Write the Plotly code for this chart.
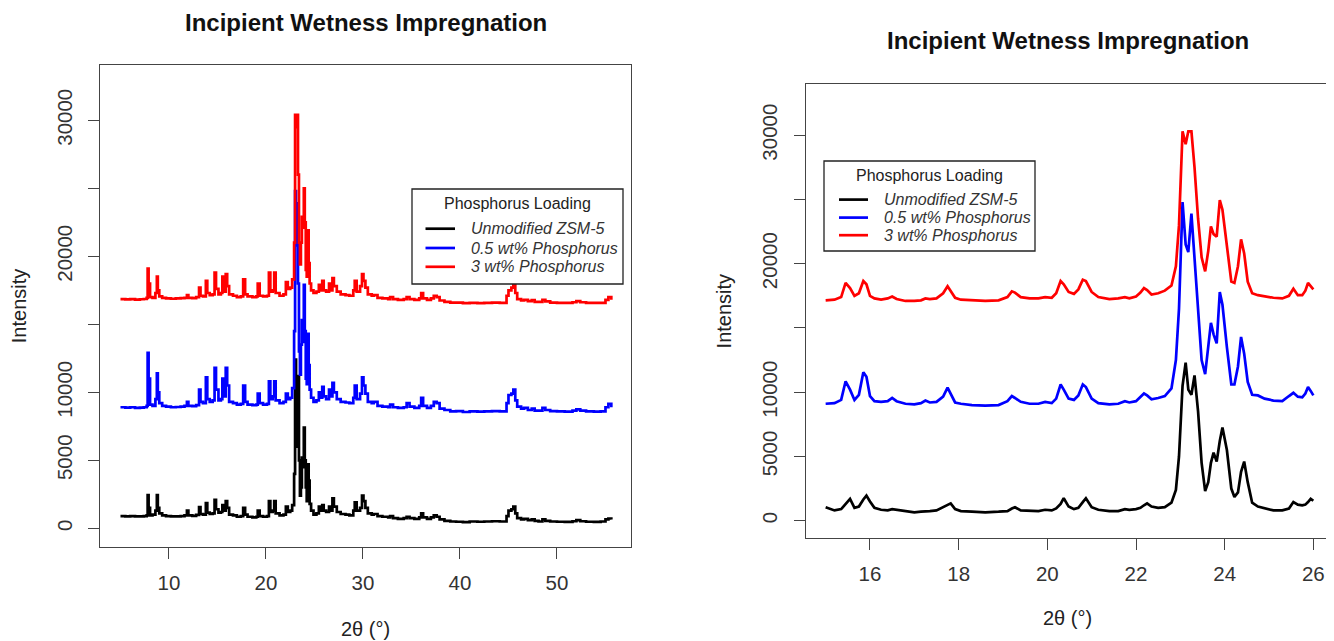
import plotly.graph_objects as go

# ---------------- Left panel: full scan (2theta 5-55.6) ----------------
x_full = [5.0, 5.5, 6.0, 6.5, 7.0, 7.4, 7.7, 7.8, 7.9, 8.05,
          8.3, 8.6, 8.75, 8.85, 9.0, 9.3, 9.7, 10.2, 10.7, 11.2,
          11.6, 11.85, 12.0, 12.4, 12.8, 13.1, 13.25, 13.5, 13.8, 13.95,
          14.2, 14.5, 14.7, 14.85, 15.1, 15.35, 15.5, 15.65, 15.85, 16.0,
          16.2, 16.6, 17.0, 17.4, 17.65, 17.85, 18.1, 18.6, 19.0, 19.15,
          19.35, 19.7, 20.1, 20.3, 20.45, 20.7, 20.85, 21.0, 21.4, 21.8,
          22.05, 22.25, 22.5, 22.7, 22.9, 23.0, 23.1, 23.2, 23.3, 23.4,
          23.5, 23.6, 23.7, 23.8, 23.9, 24.0, 24.1, 24.2, 24.3, 24.4,
          24.5, 24.65, 24.9, 25.2, 25.45, 25.6, 25.8, 25.95, 26.2, 26.5,
          26.65, 26.85, 27.0, 27.3, 27.7, 28.2, 28.6, 29.0, 29.15, 29.35,
          29.7, 29.9, 30.05, 30.25, 30.5, 30.9, 31.1, 31.5, 32.0, 32.6,
          32.8, 33.1, 33.6, 34.2, 34.5, 34.8, 35.3, 35.8, 36.0, 36.2,
          36.6, 37.0, 37.3, 37.6, 37.9, 38.4, 39.0, 39.6, 40.3, 41.0,
          41.8, 42.5, 43.3, 44.1, 44.8, 45.0, 45.3, 45.5, 45.7, 45.9,
          46.3, 46.6, 47.0, 47.4, 47.7, 48.1, 48.5, 48.8, 49.3, 50.0,
          50.8, 51.6, 52.0, 52.4, 53.0, 53.8, 54.5, 55.0, 55.3, 55.6]
black_full = [900, 880, 900, 870, 880, 900, 950, 2450, 1500, 950,
              1000, 1300, 2450, 1500, 1100, 950, 900, 870, 880, 900,
              950, 1300, 950, 920, 980, 1550, 1050, 1000, 1850, 1150,
              1050, 1100, 2100, 1400, 1150, 1200, 1700, 1300, 2000, 1500,
              1000, 950, 850, 900, 1500, 1000, 850, 800, 850, 1300,
              900, 850, 900, 2000, 1200, 1300, 2000, 1100, 950, 1000,
              1600, 1200, 1300, 1700, 4000, 12400, 9000, 6000, 11200, 5000,
              2400, 3000, 5200, 4500, 7400, 5000, 3000, 2000, 4700, 3500,
              1800, 1300, 1000, 1100, 1600, 1300, 1700, 1300, 1200, 1600,
              1300, 2200, 1600, 1200, 1050, 1000, 950, 1300, 1900, 1300,
              1500, 2400, 2000, 1500, 1100, 1000, 1050, 900, 850, 800,
              900, 750, 700, 750, 850, 750, 700, 800, 1100, 800,
              700, 800, 950, 850, 650, 550, 500, 480, 450, 500,
              480, 500, 520, 500, 900, 1300, 1400, 1600, 1100, 750,
              650, 700, 600, 650, 550, 500, 650, 550, 500, 480,
              470, 520, 600, 520, 480, 470, 500, 650, 720, 650]
blue_full = [8900, 8880, 8900, 8850, 8870, 8900, 9000, 12900, 11000, 9100,
             9000, 9500, 11400, 10000, 9200, 9000, 8950, 8900, 8920, 8950,
             9000, 9300, 9000, 8980, 9050, 10200, 9300, 9200, 11100, 9500,
             9300, 9400, 11800, 10200, 9400, 9500, 11000, 9700, 11800, 10500,
             9300, 9200, 9100, 9150, 10500, 9300, 9100, 9050, 9100, 9900,
             9200, 9100, 9150, 10800, 9500, 9700, 10800, 9400, 9200, 9300,
             9900, 9500, 9600, 10300, 14500, 24800, 20800, 23900, 18000, 13000,
             11300, 13500, 15300, 13700, 17900, 14500, 11000, 10600, 14300, 12000,
             10200, 9600, 9300, 9400, 10000, 9600, 10400, 9700, 9500, 10200,
             9700, 10700, 10000, 9500, 9300, 9250, 9200, 9600, 10500, 9500,
             9900, 11100, 10500, 9900, 9300, 9200, 9300, 9000, 8950, 8900,
             9100, 8900, 8850, 8900, 9200, 8950, 8850, 9000, 9600, 9000,
             8850, 9000, 9300, 9200, 8800, 8700, 8600, 8620, 8550, 8600,
             8580, 8600, 8620, 8600, 9200, 9800, 9900, 10200, 9400, 8950,
             8800, 8850, 8700, 8800, 8650, 8650, 8850, 8700, 8620, 8600,
             8580, 8650, 8750, 8650, 8600, 8580, 8600, 8900, 9150, 8900]
red_full = [16850, 16830, 16850, 16820, 16840, 16860, 16950, 19100, 18000, 17000,
            16950, 17300, 18500, 17500, 17050, 16950, 16900, 16880, 16900, 16920,
            16950, 17150, 16950, 16930, 17000, 17700, 17100, 17050, 18200, 17300,
            17150, 17200, 18800, 17600, 17200, 17300, 18500, 17400, 18700, 17800,
            17200, 17100, 17000, 17050, 18300, 17200, 17050, 17000, 17050, 18000,
            17100, 17050, 17100, 18800, 17400, 17500, 18800, 17300, 17100, 17200,
            18100, 17600, 17700, 18300, 21000, 30400, 29500, 30400, 26000, 21000,
            19400, 21000, 22900, 22100, 25000, 22500, 19000, 18500, 21900, 19500,
            18000, 17500, 17300, 17400, 17900, 17500, 18200, 17500, 17400, 18000,
            17500, 18400, 17800, 17400, 17200, 17150, 17100, 17500, 18200, 17400,
            17800, 18700, 18200, 17700, 17200, 17100, 17150, 16950, 16900, 16850,
            17000, 16850, 16800, 16850, 17000, 16850, 16800, 16900, 17300, 16900,
            16800, 16900, 17100, 17000, 16750, 16650, 16600, 16600, 16550, 16580,
            16560, 16580, 16600, 16580, 17100, 17500, 17700, 17900, 17300, 16850,
            16750, 16800, 16700, 16780, 16650, 16650, 16800, 16680, 16600, 16580,
            16570, 16620, 16700, 16620, 16580, 16570, 16580, 16800, 17000, 16800]

# ---------------- Right panel: zoom (2theta 15-26) ----------------
x_zoom = [15.0, 15.2, 15.35, 15.45, 15.55, 15.65, 15.75, 15.85, 15.92, 16.0, 16.1, 16.25, 16.4, 16.5,
          16.6, 16.8, 17.0, 17.15, 17.25, 17.35, 17.5, 17.65, 17.75, 17.82, 17.92, 18.05, 18.3,
          18.6, 18.9, 19.1, 19.2, 19.27, 19.4, 19.6, 19.8, 19.95, 20.1, 20.2, 20.3, 20.37, 20.48,
          20.6, 20.7, 20.8, 20.87, 21.0, 21.15, 21.4, 21.6, 21.75, 21.85, 22.0, 22.1, 22.18, 22.25,
          22.35, 22.5, 22.65, 22.8, 22.9, 22.97, 23.05, 23.12, 23.18, 23.25, 23.32, 23.4, 23.48,
          23.56, 23.63, 23.69, 23.75, 23.82, 23.89, 23.95, 24.05, 24.15, 24.22, 24.3, 24.37, 24.44,
          24.52, 24.62, 24.75, 24.9, 25.1, 25.3, 25.45, 25.55, 25.65, 25.75, 25.82, 25.88, 25.94, 26.0]
black_zoom = [1050, 800, 900, 1300, 1700, 1000, 1100, 1650, 1950, 1500, 1000, 850, 800, 900,
              850, 700, 650, 700, 750, 750, 800, 1050, 1200, 1350, 900, 750, 700,
              650, 700, 750, 950, 1050, 800, 750, 750, 850, 800, 950, 1300, 1750, 1100,
              900, 1000, 1450, 1750, 1050, 850, 750, 750, 900, 850, 900, 1000, 1200, 1350,
              1100, 1000, 1050, 1400, 2400, 5000, 10500, 12300, 10200, 9800, 11300, 8500, 4500,
              2300, 3000, 4500, 5300, 4600, 6200, 7250, 5500, 2500, 1850, 2200, 3800, 4600,
              3000, 1400, 1100, 950, 800, 800, 950, 1450, 1250, 1200, 1250, 1450, 1700, 1550]
blue_zoom = [9100, 9150, 9400, 10850, 10200, 9400, 9800, 11550, 11200, 9700, 9300, 9250, 9300, 9550,
             9300, 9100, 9050, 9150, 9350, 9200, 9250, 9650, 10350, 9900, 9200, 9100, 9000,
             8950, 9000, 9300, 9700, 9550, 9250, 9100, 9100, 9250, 9150, 9500, 10600, 10200, 9500,
             9400, 9750, 10600, 10400, 9500, 9150, 9050, 9100, 9300, 9200, 9300, 9600, 9900, 9750,
             9450, 9550, 9700, 10300, 12500, 16500, 24800, 21500, 20900, 23900, 20500, 16000, 12500,
             11400, 13500, 15400, 14500, 13800, 17800, 16800, 13500, 10600, 10600, 12000, 14300, 13000,
             10800, 9800, 9750, 9500, 9350, 9300, 9700, 9950, 9650, 9600, 9900, 10400, 10100, 9750]
red_zoom = [17150, 17200, 17400, 18500, 18100, 17500, 17700, 18650, 18400, 17500, 17300, 17200, 17300, 17450,
            17250, 17100, 17100, 17150, 17300, 17250, 17300, 17700, 18250, 17900, 17350, 17200, 17150,
            17100, 17150, 17400, 17850, 17750, 17400, 17300, 17300, 17400, 17350, 17700, 18650, 18400, 17800,
            17650, 18000, 18750, 18650, 17800, 17400, 17250, 17300, 17400, 17300, 17450, 17750, 18100, 17950,
            17600, 17700, 17900, 18300, 19800, 23000, 30300, 29300, 30300, 30300, 27500, 23500, 20500,
            19400, 21000, 22900, 22300, 22100, 24950, 24200, 21500, 18600, 18500, 19800, 21900, 20800,
            18600, 17700, 17550, 17450, 17350, 17300, 17500, 18050, 17550, 17550, 17900, 18500, 18200, 18000]

series_names = ["Unmodified ZSM-5", "0.5 wt% Phosphorus", "3 wt% Phosphorus"]
series_colors = ["black", "#0000ff", "#ff0000"]
legend_title = "Phosphorus Loading"

title_text = "Incipient Wetness Impregnation"
x_title = "2θ (°)"
y_title = "Intensity"
y_tickvals = [0, 5000, 10000, 15000, 20000, 25000, 30000]
y_ticktext = ["0", "5000", "10000", "", "20000", "", "30000"]
x_ticks_full = [10, 20, 30, 40, 50]
x_ticks_zoom = [16, 18, 20, 22, 24, 26]

for arr in (black_full, blue_full, red_full):
    assert len(arr) == len(x_full)
for arr in (black_zoom, blue_zoom, red_zoom):
    assert len(arr) == len(x_zoom)

W, H = 1334, 641
OFF = 8  # the page body adds an 8 px margin around the figure
FONT = "Liberation Sans, Arial, sans-serif"


def px_x(p):
    return (p - OFF) / W


def px_y(p):
    return 1 - (p - OFF) / H


fig = go.Figure()
for name, col, ys in zip(series_names, series_colors, [black_full, blue_full, red_full]):
    fig.add_trace(go.Scatter(x=x_full, y=ys, mode="lines", name=name, showlegend=False,
                             line=dict(color=col, width=2.7, shape="hv"), xaxis="x", yaxis="y"))
for name, col, ys in zip(series_names, series_colors, [black_zoom, blue_zoom, red_zoom]):
    fig.add_trace(go.Scatter(x=x_zoom, y=ys, mode="lines", name=name, showlegend=False,
                             line=dict(color=col, width=2.7), xaxis="x2", yaxis="y2"))

axis_common = dict(showline=True, mirror=True, linecolor="#444", linewidth=1.3,
                   ticks="outside", ticklen=11, tickcolor="#444", tickwidth=1.3,
                   showgrid=False, zeroline=False, automargin=False,
                   tickfont=dict(family=FONT, size=20.5, color="#333"))

shapes = []
annotations = []

# R-style legend boxes (box, centred title, line keys, italic labels)
legend_specs = [
    dict(box=(412, 623, 189, 284), title_y=203.7, rows=[228.7, 248.0, 266.8],
         key=(425.5, 455), text_x=469),
    dict(box=(824, 1035, 161, 251), title_y=175.4, rows=[199.6, 217.6, 235.2],
         key=(839, 868), text_x=882),
]
for spec in legend_specs:
    x0, x1, y0, y1 = spec["box"]
    shapes.append(dict(type="rect", xref="paper", yref="paper",
                       x0=px_x(x0), x1=px_x(x1), y0=px_y(y1), y1=px_y(y0),
                       line=dict(color="#222", width=1.3), fillcolor="white", layer="above"))
    annotations.append(dict(text=legend_title, x=px_x((x0 + x1) / 2), y=px_y(spec["title_y"]),
                            xref="paper", yref="paper", xanchor="center", yanchor="middle",
                            showarrow=False, font=dict(family=FONT, size=16, color="#222")))
    for name, col, ry in zip(series_names, series_colors, spec["rows"]):
        shapes.append(dict(type="line", xref="paper", yref="paper",
                           x0=px_x(spec["key"][0]), x1=px_x(spec["key"][1]),
                           y0=px_y(ry), y1=px_y(ry), line=dict(color=col, width=2.7),
                           layer="above"))
        annotations.append(dict(text="<i>" + name + "</i>", x=px_x(spec["text_x"]), y=px_y(ry),
                                xref="paper", yref="paper", xanchor="left", yanchor="middle",
                                showarrow=False, font=dict(family=FONT, size=16, color="#333")))

annotations += [
    dict(text="<b>" + title_text + "</b>", x=px_x(365.5), y=px_y(8), xref="paper", yref="paper",
         xanchor="center", yanchor="top", showarrow=False, borderpad=0,
         font=dict(family=FONT, size=24, color="#111")),
    dict(text="<b>" + title_text + "</b>", x=px_x(1067.5), y=px_y(40), xref="paper", yref="paper",
         xanchor="center", yanchor="middle", showarrow=False,
         font=dict(family=FONT, size=24, color="#111")),
]

fig.update_layout(
    width=W, height=H,
    margin=dict(l=0, r=0, t=0, b=0, autoexpand=False),
    paper_bgcolor="white", plot_bgcolor="white",
    font=dict(family=FONT, color="#222"),
    showlegend=False,
    xaxis=dict(domain=[px_x(100.3), px_x(630.7)], range=[2.92, 57.6], anchor="y",
               tickvals=x_ticks_full, ticklabelstandoff=7,
               title=dict(text=x_title, font=dict(size=20, color="#222"), standoff=28),
               **axis_common),
    yaxis=dict(domain=[px_y(546.7), px_y(65.3)], range=[-1353, 34044], anchor="x",
               tickvals=y_tickvals, ticktext=y_ticktext, tickangle=-90, ticklabelstandoff=8,
               title=dict(text=y_title, font=dict(size=20, color="#222"), standoff=21),
               **axis_common),
    xaxis2=dict(domain=[px_x(805.7), px_x(1329.3)], range=[14.55, 26.36], anchor="y2",
                tickvals=x_ticks_zoom, ticklabelstandoff=6,
                title=dict(text=x_title, font=dict(size=20, color="#222"), standoff=26),
                **axis_common),
    yaxis2=dict(domain=[px_y(538.3), px_y(84)], range=[-1370, 33984], anchor="x2",
                tickvals=y_tickvals, ticktext=y_ticktext, tickangle=-90, ticklabelstandoff=8,
                title=dict(text=y_title, font=dict(size=20, color="#222"), standoff=21),
                **axis_common),
    shapes=shapes,
    annotations=annotations,
)

fig.write_html("out.html")
